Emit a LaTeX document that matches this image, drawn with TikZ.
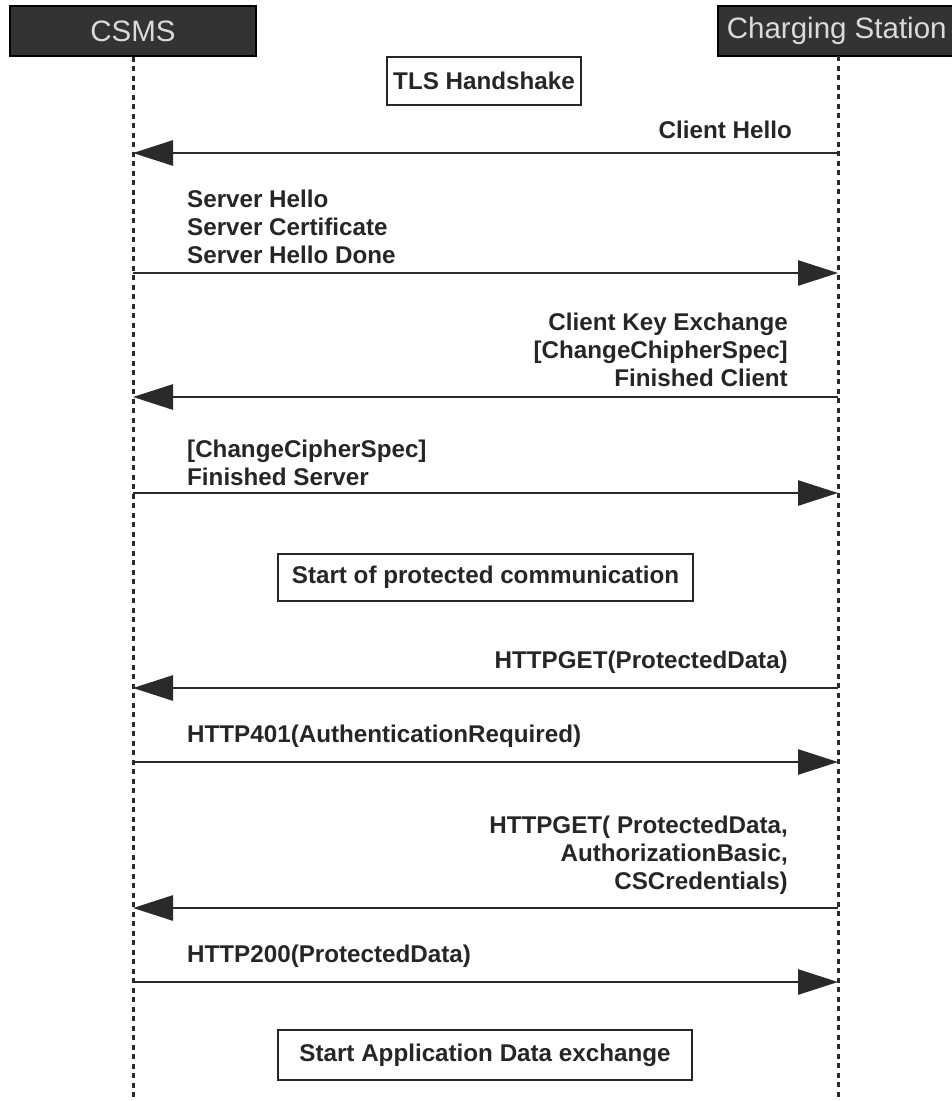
\documentclass[tikz,border=0pt]{standalone}
\usepackage{fontspec}
\setmainfont{Liberation Sans}
\usetikzlibrary{arrows.meta}
\definecolor{headfill}{HTML}{333333}
\definecolor{headtext}{HTML}{DADADA}
\definecolor{linecol}{HTML}{2A2A2A}
\begin{document}
\begin{tikzpicture}[x=1pt,y=-1pt,
  header/.style={draw=black,line width=1.5pt,fill=headfill,text=headtext,
    font=\fontsize{29.5}{33}\selectfont,inner sep=0pt},
  lifeline/.style={linecol,line width=3pt,dash pattern=on 5pt off 4.5pt},
  msg/.style={linecol,line width=2.8pt,-{Triangle[length=40pt,width=25pt]}},
  lbl/.style={font=\bfseries\fontsize{24.2}{28}\selectfont,inner sep=0pt,text=black!85},
  note/.style={draw=black!85,line width=2.2pt,font=\bfseries\fontsize{24.2}{28}\selectfont,
    text=black!85,inner sep=0pt}
]
\useasboundingbox (0,0) rectangle (952,1101);

% participants
\node[header,minimum width=246pt,minimum height=50pt] (csms) at (133,31) {CSMS};
\node[header,minimum width=240pt,minimum height=50pt,anchor=west] (cs) at (717,31) {\hspace*{-2pt}Charging Station};

% lifelines
\coordinate (csmsEnd) at (133,1101);
\coordinate (csTop) at (838,56);
\coordinate (csEnd) at (838,1101);
\draw[lifeline] (csms.south) -- (csmsEnd);
\draw[lifeline] (csTop) -- (csEnd);

% notes
\node[note,minimum width=194pt,minimum height=48pt] (tls) at (484,81) {TLS Handshake};
\node[note,minimum width=415pt,minimum height=47pt] (prot) at (485.5,577.5) {Start of protected communication};
\node[note,minimum width=414pt,minimum height=50pt] (app) at (485,1055) {Start Application Data exchange};

% message end points on the lifelines
\foreach \n/\y in {1/153,2/273,3/397,4/493,5/688,6/762,7/908,8/982}{
  \coordinate (a\n) at (133,\y);
  \coordinate (b\n) at (838,\y);
}

% messages
\draw[msg] (b1) -- (a1);
\node[lbl,anchor=south east] (m1) at (792,139) {Client Hello};

\draw[msg] (a2) -- (b2);
\node[lbl,anchor=south west,align=left] (m2) at (187,264) {Server Hello\\Server Certificate\\Server Hello Done};

\draw[msg] (b3) -- (a3);
\node[lbl,anchor=south east,align=right] (m3) at (788,387) {Client Key Exchange\\{[ChangeChipherSpec]}\\Finished Client};

\draw[msg] (a4) -- (b4);
\node[lbl,anchor=south west,align=left] (m4) at (187,486) {{[ChangeCipherSpec]}\\Finished Server};

\draw[msg] (b5) -- (a5);
\node[lbl,anchor=south east] (m5) at (788,674) {HTTPGET(ProtectedData)};

\draw[msg] (a6) -- (b6);
\node[lbl,anchor=south west] (m6) at (187,748) {HTTP401(AuthenticationRequired)};

\draw[msg] (b7) -- (a7);
\node[lbl,anchor=south east,align=right] (m7) at (788,895) {HTTPGET( ProtectedData,\\AuthorizationBasic,\\CSCredentials)};

\draw[msg] (a8) -- (b8);
\node[lbl,anchor=south west] (m8) at (187,968) {HTTP200(ProtectedData)};
\end{tikzpicture}
\end{document}
